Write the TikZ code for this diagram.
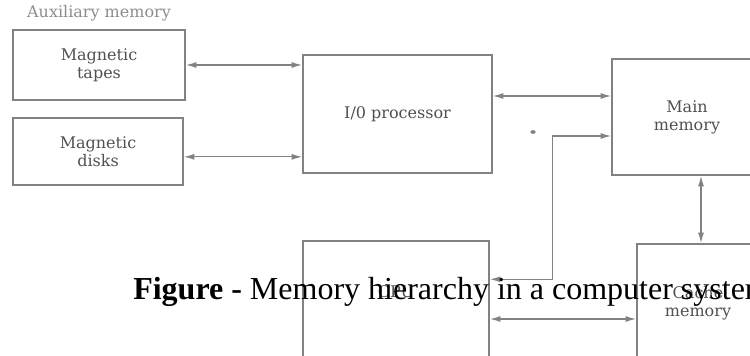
\documentclass[tikz,border=0pt]{standalone}
\usepackage{fontspec}
\setmainfont{Liberation Serif}
\newfontfamily\scanfont{DejaVu Serif}
\usetikzlibrary{arrows.meta,positioning}
\definecolor{scanline}{RGB}{130,130,130}
\definecolor{scantext}{RGB}{80,80,80}

\begin{document}
\begin{tikzpicture}[x=0.75pt, y=-0.75pt,
    box/.style={draw=scanline, line width=1.1pt, inner sep=0pt, align=center,
                font=\scanfont\fontsize{12}{13.5}\selectfont, text=scantext},
    txt/.style={inner sep=0pt, align=center,
                font=\scanfont\fontsize{12}{13.5}\selectfont, text=#1},
    txt/.default=scantext,
    arr/.style={<->, draw=scanline, line width=1pt, >={Latex[length=8pt,width=4.5pt]}},
]
    \useasboundingbox (0,0) rectangle (750,356);
    \clip (0,0) rectangle (750,356);

    \node[txt=scantext!65!white] (auxlabel) at (99,13) {Auxiliary memory};
    \node[box, minimum width=129pt, minimum height=52.5pt]   (tapes) at (99,65)    {Magnetic\\tapes};
    \node[box, minimum width=127.5pt, minimum height=50.25pt] (disks) at (98,151.5) {Magnetic\\disks};
    \node[box, minimum width=141.75pt, minimum height=88.5pt] (io)    at (397.5,114) {I/0 processor};
    \node[box, minimum width=112.5pt, minimum height=87pt]   (main)  at (687,117)  {Main\\memory};
    \node[box, minimum width=139.5pt, minimum height=150pt]  (cpu)   at (396,341)  {};
    \node[box, minimum width=91.5pt, minimum height=150pt]   (cache) at (698,344)  {};
    \node[txt] (cputxt)   at (396,292) {CPU};
    \node[txt] (cachetxt) at (698,303) {Cache\\memory};

    \fill[scanline] (533,132) ellipse [x radius=2pt, y radius=1.4pt];

    \draw[arr] (tapes.east) -- (tapes.east -| io.west);
    \draw[arr] ([yshift=-4pt]disks.east) -- ([yshift=-4pt]disks.east -| io.west);
    \draw[arr] ([yshift=13.5pt]io.east) -- ([yshift=13.5pt]io.east -| main.west);
    \draw[arr] ([xshift=10.5pt]main.south) -- ([xshift=10.5pt]main.south |- cache.north);
    \draw[arr] ([yshift=16.5pt]cpu.east) -- ([yshift=16.5pt]cpu.east -| cache.west);
    \draw[arr] ([yshift=-29.25pt]cpu.north east) -| ([xshift=-44.25pt,yshift=-14.25pt]main.west)
               -- ([yshift=-14.25pt]main.west);

    \node[anchor=base west, inner sep=0pt, font=\fontsize{24}{28}\selectfont] (caption) at (133,299)
        {\textbf{Figure -} Memory hierarchy in a computer system};
\end{tikzpicture}
\end{document}
